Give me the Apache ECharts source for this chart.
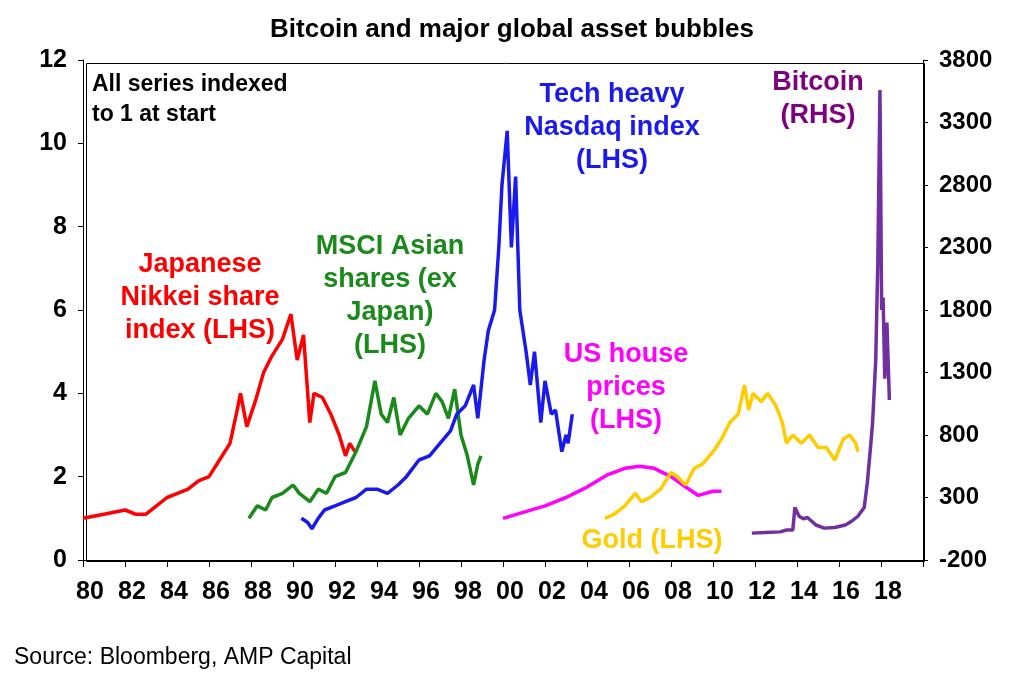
<!DOCTYPE html>
<html>
<head>
<meta charset="utf-8" />
<title>Bitcoin and major global asset bubbles</title>
<script src="https://cdn.jsdelivr.net/npm/echarts@6.0.0/dist/echarts.min.js"></script>
<style>
  html, body { margin: 0; background: #fff; }
  #main { width: 1024px; height: 691px; }
</style>
</head>
<body>
<div id="main"></div>
<script>
// tick years shown on the x axis
var yearTicks = [1980,1982,1984,1986,1988,1990,1992,1994,1996,1998,2000,2002,2004,2006,2008,2010,2012,2014,2016,2018];

// [year, index level]
var nikkei = [[1980,1.0],[1980.5,1.05],[1981,1.1],[1982,1.2],[1982.5,1.1],[1983,1.1],[1983.5,1.3],[1984,1.5],[1984.5,1.6],[1985,1.7],[1985.5,1.9],[1986,2.0],[1986.5,2.4],[1987,2.8],[1987.3,3.5],[1987.5,4.0],[1987.8,3.2],[1988.2,3.8],[1988.6,4.5],[1989,4.9],[1989.5,5.3],[1989.9,5.9],[1990.2,4.8],[1990.5,5.4],[1990.8,3.3],[1991,4.0],[1991.4,3.9],[1991.8,3.5],[1992.2,3.0],[1992.5,2.5],[1992.7,2.8],[1992.95,2.6]];
var msciAsia = [[1987.9,1.0],[1988.3,1.3],[1988.7,1.2],[1989,1.5],[1989.5,1.6],[1990,1.8],[1990.3,1.6],[1990.8,1.4],[1991.2,1.7],[1991.6,1.6],[1992,2.0],[1992.5,2.1],[1993,2.6],[1993.5,3.2],[1993.9,4.3],[1994.2,3.5],[1994.5,3.3],[1994.8,3.9],[1995.1,3.0],[1995.5,3.4],[1996,3.7],[1996.4,3.5],[1996.8,4.0],[1997.1,3.8],[1997.4,3.4],[1997.7,4.1],[1998,3.0],[1998.3,2.5],[1998.6,1.8],[1998.8,2.3],[1998.95,2.5]];
var nasdaq = [[1990.4,1.0],[1990.7,0.9],[1990.9,0.75],[1991.2,1.0],[1991.5,1.2],[1992,1.3],[1992.5,1.4],[1993,1.5],[1993.5,1.7],[1994,1.7],[1994.5,1.6],[1995,1.8],[1995.4,2.0],[1996,2.4],[1996.5,2.5],[1997,2.8],[1997.5,3.1],[1997.8,3.5],[1998.2,3.7],[1998.6,4.2],[1998.8,3.4],[1999.1,4.8],[1999.3,5.5],[1999.6,6.0],[1999.8,7.5],[1999.95,9.0],[2000.2,10.3],[2000.4,7.5],[2000.6,9.2],[2000.8,6.0],[2001.1,5.0],[2001.3,4.2],[2001.5,5.0],[2001.8,3.3],[2002,4.3],[2002.3,3.5],[2002.5,3.6],[2002.8,2.6],[2003,3.0],[2003.1,2.8],[2003.3,3.5]];
var houses = [[2000.0,1.0],[2001,1.15],[2002,1.3],[2003,1.5],[2004,1.75],[2005,2.05],[2005.8,2.2],[2006.5,2.25],[2007.2,2.2],[2008,2.0],[2008.7,1.75],[2009.3,1.55],[2010,1.65],[2010.4,1.65]];
var gold = [[2004.85,1.0],[2005.3,1.1],[2005.8,1.3],[2006.3,1.6],[2006.6,1.4],[2007,1.5],[2007.5,1.7],[2008,2.1],[2008.3,2.0],[2008.7,1.8],[2009.1,2.2],[2009.5,2.3],[2010,2.6],[2010.4,2.9],[2010.8,3.3],[2011.2,3.5],[2011.5,4.2],[2011.7,3.6],[2011.9,4.0],[2012.3,3.8],[2012.6,4.0],[2013,3.7],[2013.3,3.3],[2013.5,2.8],[2013.8,3.0],[2014.2,2.8],[2014.6,3.0],[2015,2.7],[2015.4,2.7],[2015.8,2.4],[2016.2,2.9],[2016.5,3.0],[2016.8,2.8],[2016.9,2.6]];
var bitcoin = [[2011.85,15],[2012.5,20],[2013.2,25],[2013.5,40],[2013.8,40],[2013.9,220],[2014.1,150],[2014.3,130],[2014.5,140],[2014.9,80],[2015.3,55],[2015.8,60],[2016.3,80],[2016.6,110],[2016.9,150],[2017.2,220],[2017.35,420],[2017.5,700],[2017.6,900],[2017.75,1400],[2017.85,2200],[2017.95,3560],[2018.03,1800],[2018.1,1900],[2018.18,1250],[2018.28,1700],[2018.4,1080]];

var chart = echarts.init(document.getElementById("main"));
var font = "Liberation Sans";
var narrow = "'Liberation Sans Narrow', 'Liberation Sans'";
function line(name, data, color, yIdx) {
  return { name: name, type: "line", data: data, yAxisIndex: yIdx || 0, showSymbol: false,
           lineStyle: { color: color, width: 3.5 }, itemStyle: { color: color } };
}
function label(x, y, text, color) {
  return { type: "text", x: x, y: y, style: { text: text, fill: color, font: "bold 27px " + font,
           textAlign: "center", lineHeight: 33 } };
}

chart.setOption({
  animation: false,
  textStyle: { fontFamily: font },
  title: { text: "Bitcoin and major global asset bubbles", left: "center", top: 12,
           textStyle: { fontSize: 26, fontWeight: "bold", color: "#000", fontFamily: font } },
  grid: { left: 83, right: 101, top: 60, bottom: 131 },
  xAxis: {
    type: "value", min: 1980, max: 2020, interval: 2,
    axisLine: { lineStyle: { color: "#000" } }, axisTick: { show: true, length: 7, lineStyle: { color: "#000" } },
    splitLine: { show: false },
    axisLabel: { color: "#000", fontSize: 25, fontWeight: "bold", margin: 20, fontFamily: narrow,
                 padding: [0, 0, 0, 14],
                 formatter: function (v) { return yearTicks.indexOf(v) < 0 ? "" : String(v % 100).padStart(2, "0"); } }
  },
  yAxis: [
    { type: "value", min: 0, max: 12, interval: 2, splitLine: { show: false },
      axisLine: { show: true, lineStyle: { color: "#000" } }, axisTick: { show: true, lineStyle: { color: "#000" } },
      axisLabel: { color: "#000", fontSize: 25, fontWeight: "bold", margin: 16, fontFamily: narrow } },
    { type: "value", min: -200, max: 3800, interval: 500, splitLine: { show: false },
      axisLine: { show: true, lineStyle: { color: "#000" } }, axisTick: { show: true, lineStyle: { color: "#000" } },
      axisLabel: { color: "#000", fontSize: 24, fontWeight: "bold", margin: 16, fontFamily: narrow,
                   formatter: function (v) { return String(v); } } }
  ],
  series: [
    line("Nikkei", nikkei, "#ff0000"),
    line("MSCI Asia", msciAsia, "#1a8a1a"),
    line("Nasdaq", nasdaq, "#1a1aee"),
    line("US house prices", houses, "#ff00ff"),
    line("Gold", gold, "#ffcc00"),
    line("Bitcoin", bitcoin, "#7030a0", 1)
  ],
  graphic: [
    { type: "rect", left: 84, top: 61, shape: { width: 838, height: 498 }, style: { fill: "none", stroke: "#000", lineWidth: 1 }, silent: true },
    { type: "text", left: 92, top: 70, style: { text: "All series indexed\nto 1 at start", fill: "#000", font: "bold 23px " + font, lineHeight: 30 } },
    label(200, 248, "Japanese\nNikkei share\nindex (LHS)", "#ff0000"),
    label(390, 230, "MSCI Asian\nshares (ex\nJapan)\n(LHS)", "#1a8a1a"),
    label(612, 78, "Tech heavy\nNasdaq index\n(LHS)", "#1a1aee"),
    label(626, 338, "US house\nprices\n(LHS)", "#ff00ff"),
    label(652, 524, "Gold (LHS)", "#ffcc00"),
    label(818, 66, "Bitcoin\n(RHS)", "#7f007f"),
    { type: "text", left: 14, top: 646, style: { text: "Source: Bloomberg, AMP Capital", fill: "#000", font: "23px " + font } }
  ]
});
</script>
</body>
</html>
